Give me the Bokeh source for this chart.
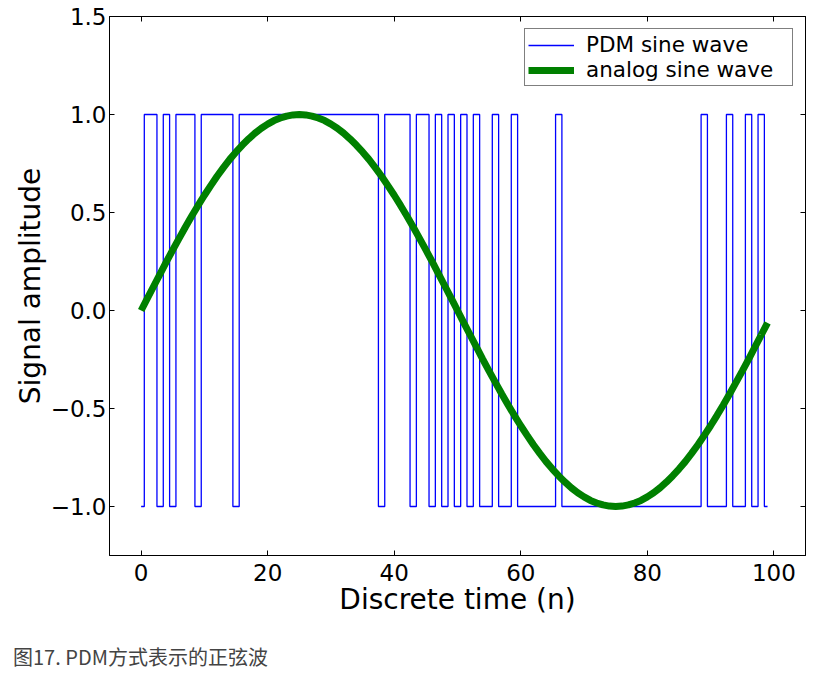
from bokeh.plotting import figure
from bokeh.models import (Range1d, FixedTicker, CustomJSTickFormatter, LinearAxis,
                          Div, Legend, LegendItem, ColumnDataSource)
from bokeh.layouts import column
from bokeh.embed import file_html
from bokeh.resources import INLINE

# ---- data ----
n = list(range(100))

pdm = [
    -1, 1, 1, -1, 1, -1, 1, 1, 1, -1,
    1, 1, 1, 1, 1, -1, 1, 1, 1, 1,
    1, 1, 1, 1, 1, 1, 1, 1, 1, 1,
    1, 1, 1, 1, 1, 1, 1, 1, -1, 1,
    1, 1, 1, -1, 1, 1, -1, 1, -1, 1,
    -1, 1, -1, 1, -1, -1, 1, -1, -1, 1,
    -1, -1, -1, -1, -1, -1, 1, -1, -1, -1,
    -1, -1, -1, -1, -1, -1, -1, -1, -1, -1,
    -1, -1, -1, -1, -1, -1, -1, -1, -1, 1,
    -1, -1, -1, 1, -1, -1, 1, -1, 1, -1,
]

analog = [
    0.000, 0.063, 0.125, 0.187, 0.249, 0.309, 0.368, 0.426, 0.482, 0.536,
    0.588, 0.637, 0.685, 0.729, 0.771, 0.809, 0.844, 0.876, 0.905, 0.930,
    0.951, 0.969, 0.982, 0.992, 0.998, 1.000, 0.998, 0.992, 0.982, 0.969,
    0.951, 0.930, 0.905, 0.876, 0.844, 0.809, 0.771, 0.729, 0.685, 0.637,
    0.588, 0.536, 0.482, 0.426, 0.368, 0.309, 0.249, 0.187, 0.125, 0.063,
    0.000, -0.063, -0.125, -0.187, -0.249, -0.309, -0.368, -0.426, -0.482, -0.536,
    -0.588, -0.637, -0.685, -0.729, -0.771, -0.809, -0.844, -0.876, -0.905, -0.930,
    -0.951, -0.969, -0.982, -0.992, -0.998, -1.000, -0.998, -0.992, -0.982, -0.969,
    -0.951, -0.930, -0.905, -0.876, -0.844, -0.809, -0.771, -0.729, -0.685, -0.637,
    -0.588, -0.536, -0.482, -0.426, -0.368, -0.309, -0.249, -0.187, -0.125, -0.063,
]

x_ticks = [0, 20, 40, 60, 80, 100]
y_ticks = [-1.0, -0.5, 0.0, 0.5, 1.0, 1.5]
series_labels = ["PDM sine wave", "analog sine wave"]
x_label = "Discrete time (n)"
y_label = "Signal amplitude"
caption = "图17. PDM方式表示的正弦波"

FONT = "DejaVu Sans"

src = ColumnDataSource(dict(n=n, pdm=pdm, analog=analog))

p = figure(frame_width=696, frame_height=539,
           x_range=Range1d(-5, 105), y_range=Range1d(-1.25, 1.5),
           output_backend="svg", toolbar_location=None,
           min_border_left=109, min_border_top=16, min_border_right=15,
           min_border_bottom=5, x_axis_location=None, y_axis_location=None)
p.grid.visible = False
p.outline_line_color = "black"
p.outline_line_width = 1
p.background_fill_color = "white"
p.border_fill_color = "white"

y_fmt = CustomJSTickFormatter(code="return tick.toFixed(1).replace('-', '\u2212');")
empty_fmt = CustomJSTickFormatter(code="return '';")


def style_axis(ax, show_labels):
    ax.axis_line_color = "black"
    ax.axis_line_width = 1
    ax.major_tick_line_color = "black"
    ax.major_tick_in = 5
    ax.major_tick_out = 0
    ax.minor_tick_line_color = None
    ax.major_label_text_font = FONT
    ax.major_label_text_color = "black"
    ax.axis_label_text_font = FONT
    ax.axis_label_text_font_style = "normal"
    ax.axis_label_text_color = "black"
    if show_labels:
        ax.major_label_text_font_size = "23px"
        ax.axis_label_text_font_size = "28px"
    else:
        ax.major_label_text_font_size = "1px"
        ax.major_label_standoff = 0


xb = LinearAxis(ticker=FixedTicker(ticks=x_ticks), axis_label=x_label)
style_axis(xb, True)
xb.major_label_standoff = 8
xb.axis_label_standoff = -1
p.add_layout(xb, "below")

yl = LinearAxis(ticker=FixedTicker(ticks=y_ticks), formatter=y_fmt, axis_label=y_label)
style_axis(yl, True)
yl.major_label_standoff = 3
yl.axis_label_standoff = 1
p.add_layout(yl, "left")

xt = LinearAxis(ticker=FixedTicker(ticks=x_ticks), formatter=empty_fmt)
style_axis(xt, False)
p.add_layout(xt, "above")

yr = LinearAxis(ticker=FixedTicker(ticks=y_ticks), formatter=empty_fmt)
style_axis(yr, False)
p.add_layout(yr, "right")

r_pdm = p.step(x="n", y="pdm", source=src, mode="center",
               line_color="#0000ff", line_width=1.3)
r_an = p.line(x="n", y="analog", source=src, line_color="#008000", line_width=7)

legend = Legend(items=[LegendItem(label=series_labels[0], renderers=[r_pdm]),
                       LegendItem(label=series_labels[1], renderers=[r_an])],
                location="top_right")
legend.label_text_font = FONT
legend.label_text_font_size = "21.5px"
legend.label_text_color = "black"
legend.border_line_color = "black"
legend.border_line_width = 1
legend.background_fill_color = "white"
legend.background_fill_alpha = 1
legend.padding = 3
legend.spacing = 0
legend.margin = 12
legend.glyph_width = 46
legend.glyph_height = 24
legend.label_height = 24
legend.label_standoff = 12
legend.label_width = 203
p.add_layout(legend)

cap = Div(text=caption, margin=(25, 0, 0, 13),
          styles={"font-family": "'Noto Sans CJK SC', sans-serif",
                  "font-size": "20px", "color": "#444444"})

layout = column(p, cap, spacing=0)
open("out.html", "w").write(file_html(layout, INLINE))
